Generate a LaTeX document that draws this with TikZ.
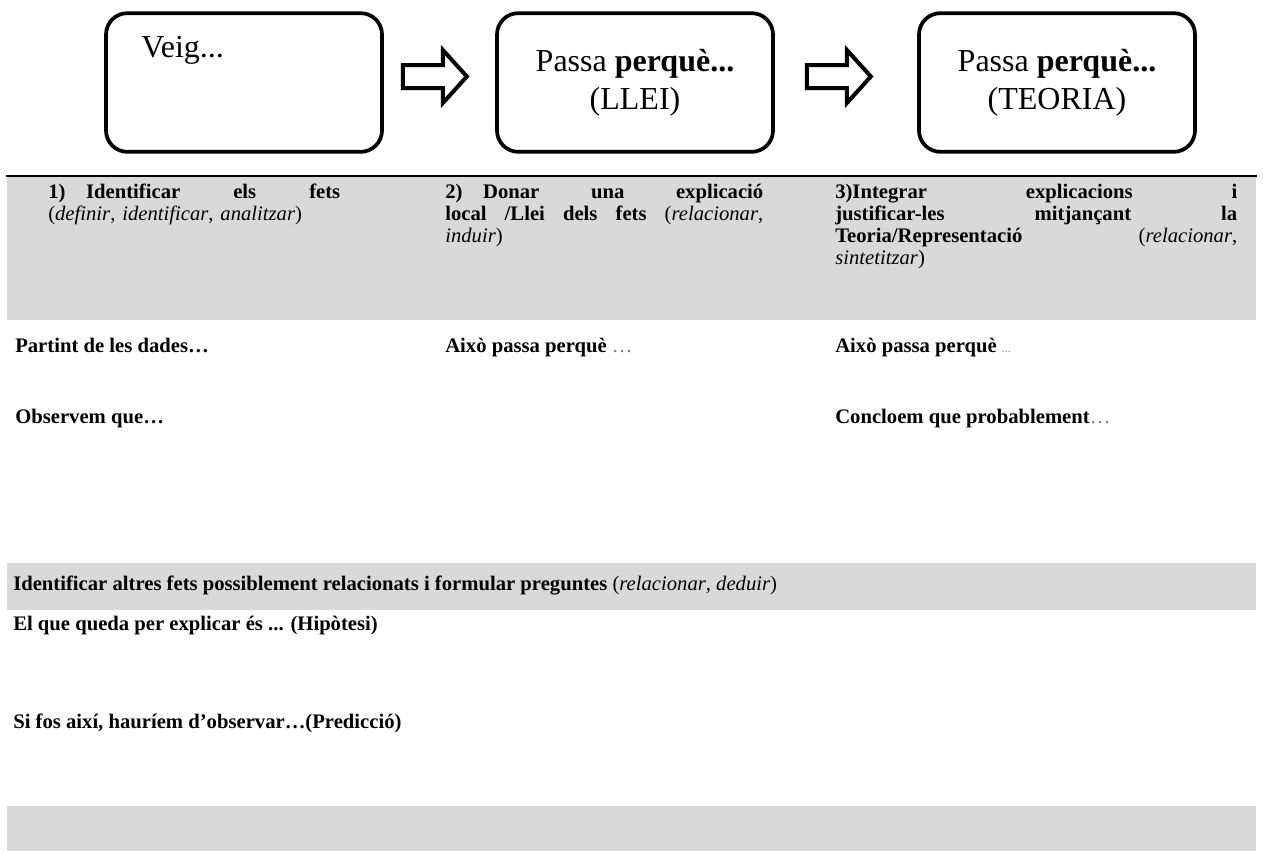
\documentclass[tikz,border=0pt]{standalone}
\usepackage{fontspec}
\setmainfont{Liberation Serif}
\usepackage{xcolor}
\usetikzlibrary{calc}
\definecolor{cellgray}{RGB}{217,217,217}
\newcommand\dotcol{gray}
% justified line of a header cell (align=left fixes the spaces, undo that)
\newcommand\fullline[2]{{\spaceskip=0pt\xspaceskip=0pt\makebox[#1][s]{#2}}}

\begin{document}
\begin{tikzpicture}[x=0.75pt, y=-0.75pt,
      stepbox/.style={draw, line width=2.8pt, rounded corners=16pt,
        minimum width=207pt, minimum height=104pt, inner sep=0pt,
        align=center, font=\fontsize{24}{28.5}\selectfont},
      blockarrow/.style={draw, line width=3pt, line join=miter},
      band/.style={fill=cellgray, draw=none},
      cell/.style={anchor=base west, inner sep=0pt, text width=#1,
        align=left, font=\fontsize{15.5}{16.5}\selectfont},
      row/.style={anchor=base west, inner sep=0pt,
        font=\fontsize{15.5}{16.5}\selectfont}
    ]
    \useasboundingbox (0,0) rectangle (1263,853);

    % grey bands of the table
    \fill[band] (7,177) rectangle (1256,320);
    \fill[band] (7,563) rectangle (1256,610);
    \fill[band] (7,806) rectangle (1256,851);
    \draw[line width=2pt] (6,176) -- (1257,176);

    % the three steps
    \node[stepbox] (box1) at (244,82.5) {};
    \node[anchor=base west, inner sep=0pt, font=\fontsize{24}{28.5}\selectfont] (veig) at (141,57) {Veig...};
    \node[stepbox] (box2) at (635,82.5) {Passa \textbf{perquè...}\\(LLEI)};
    \node[stepbox] (box3) at (1057,82.5) {Passa \textbf{perquè...}\\(TEORIA)};

    \foreach \b/\d in {box1/19, box2/32}{
      \draw[blockarrow] (\b.east) ++(\d,-17.5) -- ++(40,0) -- ++(0,-15)
        -- ++(24,26.5) -- ++(-24,26.5) -- ++(0,-15) -- ++(-40,0) -- cycle;
    }

    % header row
    \node[cell=219pt] (h1) at (48,198) {\fullline{219pt}{\textbf{1)\quad Identificar els fets}}\\
      (\textit{definir}, \textit{identificar}, \textit{analitzar})};
    \node[cell=238.5pt] (h2) at (445,198) {\fullline{238.5pt}{\textbf{2)\quad Donar una explicació}}\\
      \fullline{238.5pt}{\textbf{local /Llei dels fets} (\textit{relacionar},}\\
      \textit{induir})};
    \node[cell=301.5pt] (h3) at (835,198) {\fullline{301.5pt}{\textbf{3)Integrar explicacions i}}\\
      \fullline{301.5pt}{\textbf{justificar-les mitjançant la}}\\
      \fullline{301.5pt}{\textbf{Teoria/Representació} (\textit{relacionar},}\\
      \textit{sintetitzar})};

    % answers
    \node[row] (dades) at (15,352) {\textbf{Partint de les dades…}};
    \node[row] (llei) at (445,352) {\textbf{Això passa perquè} \textcolor{\dotcol}{…}};
    \node[row] (teoria) at (835,352) {\textbf{Això passa perquè} \textcolor{\dotcol}{\small...}};
    \node[row] (obs) at (15,423) {\textbf{Observem que…}};
    \node[row] (concl) at (835,423) {\textbf{Concloem que probablement}\textcolor{\dotcol}{…}};

    \node[row] (altres) at (13,590) {\textbf{Identificar altres fets possiblement relacionats i formular preguntes} (\textit{relacionar}, \textit{deduir})};
    \node[row] (hipo) at (13,630) {\textbf{El que queda per explicar és ... (Hipòtesi)}};
    \node[row] (pred) at (13,728) {\textbf{Si fos així, hauríem d’observar…(Predicció)}};
  \end{tikzpicture}
\end{document}
